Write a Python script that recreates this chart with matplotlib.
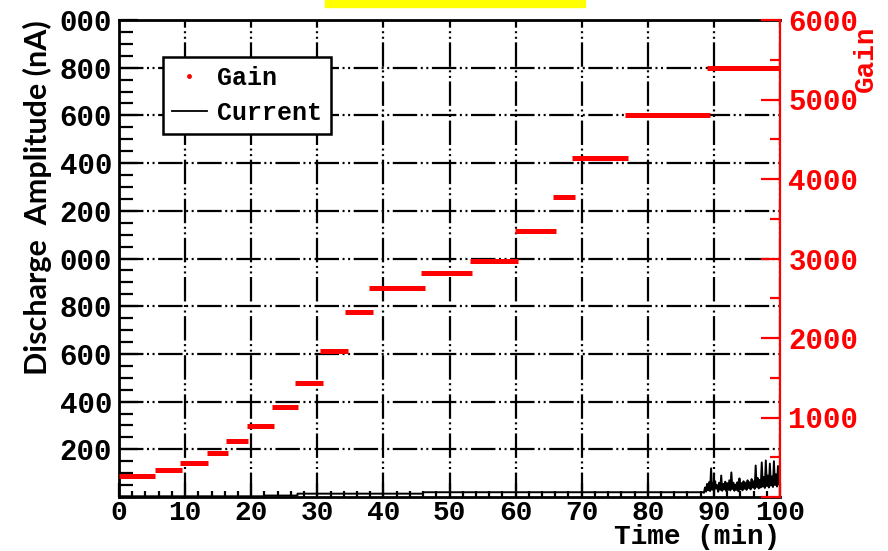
import numpy as np
import matplotlib
matplotlib.use("Agg")
from matplotlib import pyplot as plt
from matplotlib.lines import Line2D
from matplotlib.patches import Rectangle
from matplotlib.ticker import MultipleLocator, FuncFormatter

# gain plateaus: start time, end time (min), gain
gain_start = [0.0, 5.4, 9.2, 13.3, 16.2, 19.4, 23.1, 26.6, 30.4, 34.2, 37.8, 45.7,
              53.1, 59.9, 65.7, 68.5, 76.5, 89.0]
gain_end = [5.4, 9.5, 13.5, 16.5, 19.5, 23.4, 27.1, 30.9, 34.6, 38.4, 46.3, 53.4,
            60.4, 66.1, 69.0, 77.0, 89.4, 100.0]
gain_value = [270, 334, 431, 552, 699, 891, 1131, 1438, 1836, 2327, 2634, 2823,
              2969, 3347, 3775, 4259, 4804, 5399]

# discharge current (nA): quiet baseline then noisy part after 88.5 min
cur_base_t = [0, 22, 22, 27, 27, 46, 46, 88.5]
cur_base_v = [3, 3, 6, 6, 14, 14, 20, 20]
cur_noise_v = [18, 40, 22, 55, 28, 62, 25, 120, 30, 58, 24, 66, 35, 50, 22, 60,
               30, 90, 26, 55, 32, 64, 25, 58, 30, 70, 28, 103, 34, 60, 26, 52,
               30, 62, 24, 78, 32, 58, 28, 66, 35, 60, 30, 70, 38, 62, 32, 75,
               40, 66, 34, 132, 42, 80, 36, 72, 40, 145, 44, 84, 38, 153, 46, 90,
               40, 140, 48, 86, 42, 150, 50, 95, 44, 130, 52, 90]

left_ticks = [200, 400, 600, 800, 1000, 1200, 1400, 1600, 1800, 2000]

mono = "Liberation Mono"
red = "#ff0000"

fig = plt.figure(figsize=(8.88, 5.51), dpi=100)
ax = fig.add_axes([119 / 888, 1 - 497 / 551, 661 / 888, 477 / 551])
ax2 = ax.twinx()

ax.set_xlim(0, 100)
ax.set_ylim(0, 2000)
ax2.set_ylim(0, 6000)

# current
noise_t = np.linspace(88.5, 100, len(cur_noise_v))
cur_t = list(cur_base_t) + list(noise_t)
cur_v = list(cur_base_v) + list(cur_noise_v)
ax.plot(cur_t, cur_v, color="black", lw=1.4, zorder=3)

# gain plateaus
for s, e, g in zip(gain_start, gain_end, gain_value):
    ax2.plot([s, e], [g, g], color=red, lw=3.6, solid_capstyle="butt", zorder=3)

# grid, dash dot dot
ax.set_xticks(np.arange(0, 101, 10))
ax.set_yticks(left_ticks)
ax.grid(True, color="black", lw=1.6, dashes=(11, 1.6, 0.9, 1.6, 0.9, 1.6))
ax.set_axisbelow(True)

ax.xaxis.set_minor_locator(MultipleLocator(2))
ax.yaxis.set_minor_locator(MultipleLocator(50))
ax.yaxis.set_major_formatter(FuncFormatter(lambda v, p: "%03d" % (int(v) % 1000)))
ax.tick_params(axis="both", which="both", direction="in", color="black", width=1.6)
ax.tick_params(axis="y", which="major", length=14, pad=5, right=False)
ax.tick_params(axis="y", which="minor", length=10, right=False)
ax.tick_params(axis="x", which="major", length=10, pad=2, top=False)
ax.tick_params(axis="x", which="minor", length=4, top=False)
for lab in ax.get_yticklabels():
    lab.set_fontfamily(mono)
    lab.set_fontsize(21)
    lab.set_fontweight("bold")
for lab in ax.get_xticklabels():
    lab.set_fontfamily(mono)
    lab.set_fontsize(20)
    lab.set_fontweight("bold")

ax2.yaxis.set_major_locator(MultipleLocator(1000))
ax2.yaxis.set_minor_locator(MultipleLocator(500))
ax2.yaxis.set_major_formatter(FuncFormatter(lambda v, p: "" if v == 0 else "%d" % v))
ax2.tick_params(axis="y", which="both", direction="in", color=red, labelcolor=red, width=1.6)
ax2.tick_params(axis="y", which="major", length=14, pad=6)
ax2.tick_params(axis="y", which="minor", length=7)
for lab in ax2.get_yticklabels():
    lab.set_fontfamily(mono)
    lab.set_fontsize(21)
    lab.set_fontweight("bold")

for sp in ["left", "top", "bottom"]:
    ax.spines[sp].set_linewidth(2)
    ax.spines[sp].set_color("black")
    ax2.spines[sp].set_visible(False)
ax.spines["right"].set_visible(False)
ax2.spines["right"].set_color(red)
ax2.spines["right"].set_linewidth(1.6)

ax.set_ylabel("Discharge  Amplitude (nA)", fontfamily="Lato", fontweight="bold",
              fontsize=22)
ax.yaxis.set_label_coords(-0.102, 0.628)
ax.set_xlabel("Time (min)", fontfamily=mono, fontweight="bold", fontsize=20,
              loc="right")
ax.xaxis.set_label_coords(1.0, -0.056)
fig.text(866 / 888, 1 - 59 / 551, "Gain", rotation=90, color=red, fontfamily=mono,
         fontweight="bold", fontsize=20, ha="center", va="center")

handles = [Line2D([], [], color=red, marker=".", ms=5, ls="none"),
           Line2D([], [], color="black", lw=1.3)]
leg = ax2.legend(handles, ["Gain", "Current"], loc="upper left",
                 bbox_to_anchor=(0.0666, 0.922), borderaxespad=0, fancybox=False,
                 framealpha=1, edgecolor="black", handlelength=1.4, handletextpad=0.4,
                 borderpad=0.35, labelspacing=0.45,
                 prop={"family": mono, "size": 18, "weight": "bold"})
leg.get_frame().set_linewidth(1.8)

fig.patches.append(Rectangle((325 / 888, 1 - 7 / 551), 260 / 888, 7 / 551,
                             transform=fig.transFigure, color="#ffff00"))

fig.savefig("out.png", dpi=100)
